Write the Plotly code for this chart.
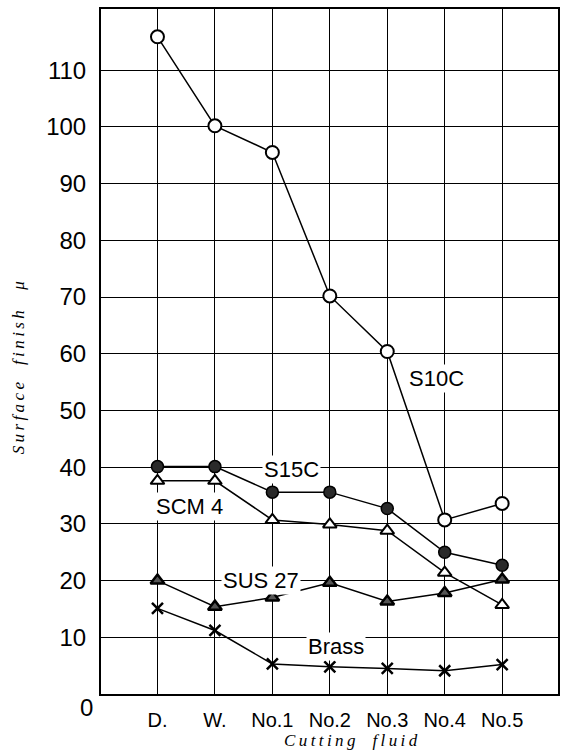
import plotly.graph_objects as go

categories = ["D.", "W.", "No.1", "No.2", "No.3", "No.4", "No.5"]
x_pos = [1, 2, 3, 4, 5, 6, 7]

s10c = [115.9, 100.2, 95.5, 70.2, 60.4, 30.7, 33.6]
s15c = [40.1, 40.1, 35.6, 35.6, 32.7, 25.0, 22.7]
scm4 = [37.6, 37.6, 30.7, 29.9, 28.8, 21.4, 15.7]
sus27 = [20.0, 15.4, 17.0, 19.6, 16.3, 17.8, 20.2]
brass = [15.1, 11.2, 5.3, 4.8, 4.5, 4.1, 5.2]

y_ticks = [10, 20, 30, 40, 50, 60, 70, 80, 90, 100, 110]

fig = go.Figure()

line = dict(color="black", width=1.5)

fig.add_trace(go.Scatter(x=x_pos, y=s10c, mode="lines+markers", line=line,
                         marker=dict(symbol="circle", size=13, color="white",
                                     line=dict(color="black", width=2))))
fig.add_trace(go.Scatter(x=x_pos, y=s15c, mode="lines+markers", line=line,
                         marker=dict(symbol="circle", size=12, color="#2a2a2a",
                                     line=dict(color="black", width=1.5))))
fig.add_trace(go.Scatter(x=x_pos, y=scm4, mode="lines+markers", line=line,
                         marker=dict(symbol="triangle-up", size=12, color="white",
                                     line=dict(color="black", width=2))))
fig.add_trace(go.Scatter(x=x_pos, y=sus27, mode="lines+markers", line=line,
                         marker=dict(symbol="triangle-up", size=12, color="#555555",
                                     line=dict(color="black", width=2.5))))
fig.add_trace(go.Scatter(x=x_pos, y=brass, mode="lines+markers", line=line,
                         marker=dict(symbol="x-thin", size=11,
                                     line=dict(color="black", width=2.5))))

label_font = dict(family="Liberation Sans", size=22, color="black")
labels = [
    ("S10C", 5.86, 55.7),
    ("S15C", 3.33, 39.6),
    ("SCM 4", 1.56, 33.0),
    ("SUS 27", 2.81, 20.1),
    ("Brass", 4.11, 8.4),
]
for text, lx, ly in labels:
    fig.add_annotation(x=lx, y=ly, text=text, showarrow=False, font=label_font,
                       bgcolor="white", borderpad=1)

PW, PH = 459, 685  # plot area size in px

# zero label, placed below the axis line as in the original
fig.add_annotation(xref="paper", yref="paper", x=-6 / PW, y=-(707 - 694) / PH, text="0",
                   showarrow=False, xanchor="right", yanchor="middle",
                   font=dict(family="Liberation Sans", size=24, color="black"))

# axis titles
fig.add_annotation(xref="paper", yref="paper", x=(352 - 101) / PW, y=-(740 - 694) / PH,
                   text="C\u2009u\u2009t\u2009t\u2009i\u2009n\u2009g\u2003f\u2009l\u2009u\u2009i\u2009d",
                   showarrow=False, yanchor="middle",
                   font=dict(family="Liberation Serif", size=17, color="black", style="italic"))
fig.add_annotation(xref="paper", yref="paper", x=-(101 - 18) / PW, y=(694 - 368) / PH,
                   text="S\u2009u\u2009r\u2009f\u2009a\u2009c\u2009e\u2003f\u2009i\u2009n\u2009i\u2009s\u2009h\u2003\u2009\u03bc",
                   showarrow=False, textangle=-90, xanchor="center", yanchor="middle",
                   font=dict(family="Liberation Serif", size=17, color="black", style="italic"))

fig.update_layout(
    width=562, height=756,
    margin=dict(l=101, r=2, t=9, b=62),
    paper_bgcolor="white", plot_bgcolor="white",
    showlegend=False,
)
fig.update_xaxes(range=[0.017, 7.972], tickvals=x_pos, ticktext=categories,
                 showgrid=True, gridcolor="black", gridwidth=1,
                 showline=True, linecolor="black", linewidth=2, mirror=True,
                 ticks="", ticklabelstandoff=7, zeroline=False,
                 tickfont=dict(family="Liberation Sans", size=20, color="black"))
fig.update_yaxes(range=[0, 120.8], tickvals=y_ticks, ticktext=[str(v) for v in y_ticks],
                 showgrid=True, gridcolor="black", gridwidth=1,
                 showline=True, linecolor="black", linewidth=2, mirror=True,
                 ticks="", ticklabelstandoff=8, zeroline=False,
                 tickfont=dict(family="Liberation Sans", size=24, color="black"))

fig.write_html("out.html")
